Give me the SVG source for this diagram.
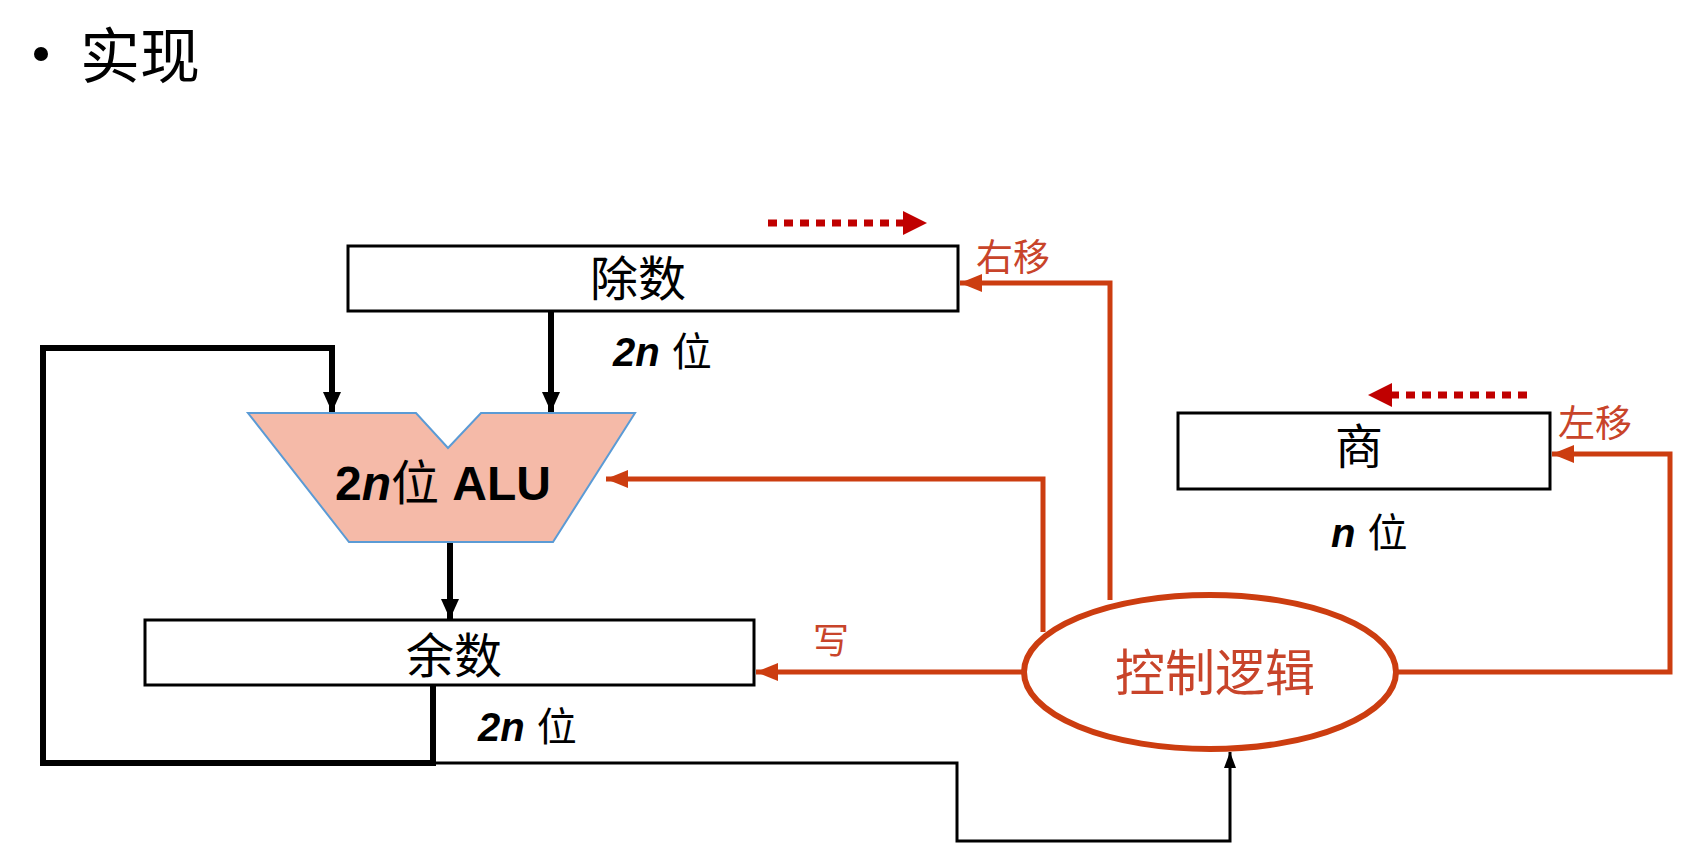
<svg xmlns="http://www.w3.org/2000/svg" width="1694" height="862" viewBox="0 0 1694 862">
<defs>
<style>
.cjk{font-family:"Noto Sans CJK SC","Liberation Sans",sans-serif;}
.lat{font-family:"Liberation Sans","Noto Sans CJK SC",sans-serif;font-weight:bold;}
.box{fill:#fff;stroke:#000;stroke-width:3;}
.thick{fill:none;stroke:#000;stroke-width:6;}
.thin{fill:none;stroke:#000;stroke-width:3;}
.ctl{fill:none;stroke:#CC3D10;stroke-width:5;}
.dots{fill:none;stroke:#C00000;stroke-width:7;stroke-dasharray:9 7;}
.red{fill:#C8442A;}
</style>
<marker id="ab" markerUnits="userSpaceOnUse" markerWidth="20" markerHeight="22" refX="20" refY="11" orient="auto"><path d="M0,2 L20,11 L0,20 Z" fill="#000"/></marker>
<marker id="abs" markerUnits="userSpaceOnUse" markerWidth="16" markerHeight="14" refX="16" refY="7" orient="auto"><path d="M0,1 L16,7 L0,13 Z" fill="#000"/></marker>
<marker id="ao" markerUnits="userSpaceOnUse" markerWidth="22" markerHeight="22" refX="22" refY="11" orient="auto"><path d="M0,2 L22,11 L0,20 Z" fill="#CC3D10"/></marker>
<marker id="ar" markerUnits="userSpaceOnUse" markerWidth="24" markerHeight="26" refX="2" refY="13" orient="auto"><path d="M0,1 L24,13 L0,25 Z" fill="#C00000"/></marker>
</defs>
<rect width="1694" height="862" fill="#fff"/>

<g id="title">
<circle cx="41" cy="54" r="7" fill="#000"/>
<text x="80" y="78" class="cjk" font-size="60" fill="#000">实现</text>
</g>

<g id="connectors">
<!-- divisor to ALU -->
<line x1="551" y1="311" x2="551" y2="412" class="thick" marker-end="url(#ab)"/>
<!-- remainder feedback loop -->
<polyline points="433,685 433,763 43,763 43,348 332,348 332,412" class="thick" marker-end="url(#ab)"/>
<!-- ALU to remainder -->
<line x1="450" y1="542" x2="450" y2="619" class="thick" marker-end="url(#ab)"/>
<!-- remainder to control -->
<polyline points="433,763 957,763 957,841 1230,841 1230,752" class="thin" marker-end="url(#abs)"/>
<!-- control to divisor (shift right) -->
<polyline points="1110,600 1110,283 960,283" class="ctl" marker-end="url(#ao)"/>
<!-- control to ALU -->
<polyline points="1043,632 1043,479 606,479" class="ctl" marker-end="url(#ao)"/>
<!-- control to remainder (write) -->
<line x1="1025" y1="672" x2="756" y2="672" class="ctl" marker-end="url(#ao)"/>
<!-- control to quotient (shift left) -->
<polyline points="1396,672 1670,672 1670,454 1552,454" class="ctl" marker-end="url(#ao)"/>
<!-- dotted shift indicators -->
<line x1="768" y1="223" x2="905" y2="223" class="dots" marker-end="url(#ar)"/>
<line x1="1527" y1="395" x2="1390" y2="395" class="dots" marker-end="url(#ar)"/>
</g>

<g id="divisor">
<rect x="348" y="246" width="610" height="65" class="box"/>
<text x="638" y="296" class="cjk" font-size="48" text-anchor="middle">除数</text>
<text x="613" y="366" font-size="40"><tspan class="lat" font-style="italic">2<tspan>n</tspan></tspan><tspan class="cjk" dx="12">位</tspan></text>
</g>

<g id="alu">
<polygon points="248,413 416,413 448,448 481,413 635,413 553,542 349,542" fill="#F5BAA8" stroke="#5B9BD5" stroke-width="2"/>
<text x="443" y="500" font-size="48" text-anchor="middle"><tspan class="lat">2</tspan><tspan class="lat" font-style="italic">n</tspan><tspan class="cjk">位</tspan><tspan class="lat"> ALU</tspan></text>
</g>

<g id="remainder">
<rect x="145" y="620" width="609" height="65" class="box"/>
<text x="454" y="673" class="cjk" font-size="48" text-anchor="middle">余数</text>
<text x="478" y="741" font-size="40"><tspan class="lat" font-style="italic">2n</tspan><tspan class="cjk" dx="12">位</tspan></text>
</g>

<g id="quotient">
<rect x="1178" y="413" width="372" height="76" class="box"/>
<text x="1359" y="464" class="cjk" font-size="48" text-anchor="middle">商</text>
<text x="1331" y="547" font-size="40"><tspan class="lat" font-style="italic">n</tspan><tspan class="cjk" dx="12">位</tspan></text>
</g>

<g id="control">
<ellipse cx="1210" cy="672" rx="186" ry="77" fill="#fff" stroke="#CC3D10" stroke-width="6"/>
<text x="1215" y="691" class="cjk red" font-size="50" text-anchor="middle">控制逻辑</text>
</g>

<g id="labels">
<text x="976" y="271" class="cjk red" font-size="37">右移</text>
<text x="1558" y="437" class="cjk red" font-size="37">左移</text>
<text x="813" y="654" class="cjk red" font-size="36">写</text>
</g>
</svg>
